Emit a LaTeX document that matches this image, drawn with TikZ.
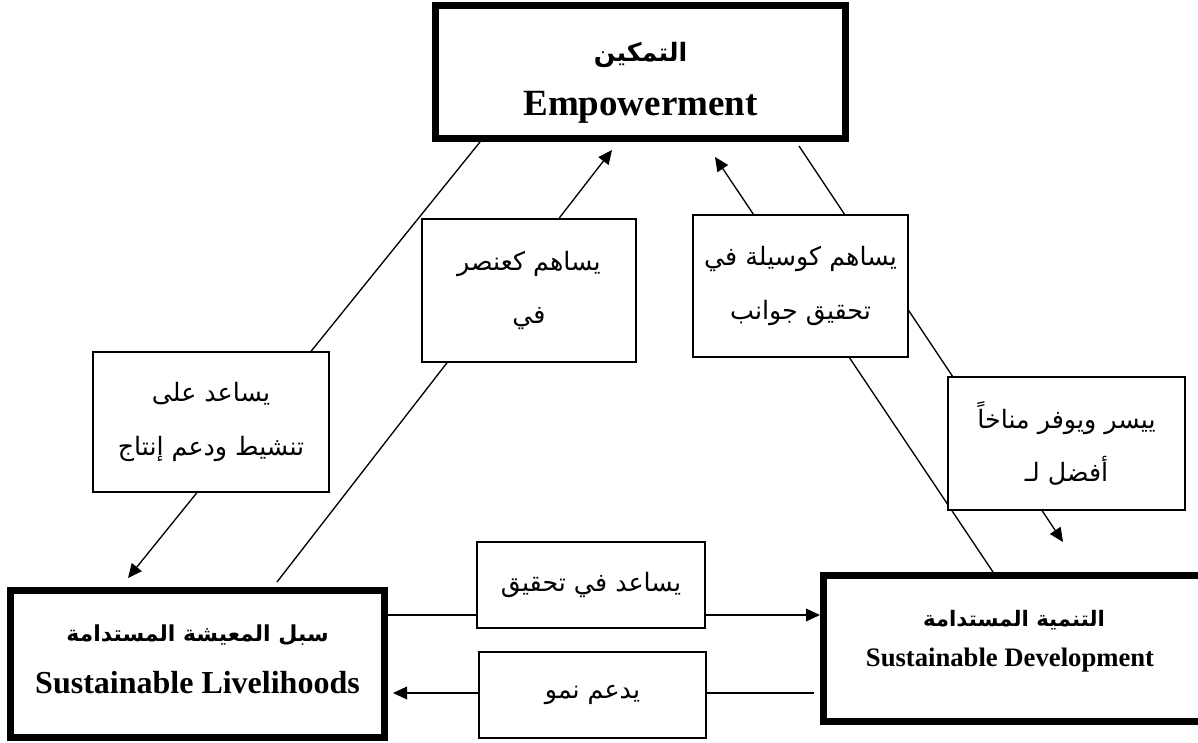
\documentclass[tikz,border=0pt]{standalone}
\usepackage{fontspec}
\setmainfont{Liberation Serif}
\newfontfamily\arabicfont[Script=Arabic]{DejaVu Sans}
\TeXXeTstate=1
\usetikzlibrary{arrows.meta}
\begin{document}
\begin{tikzpicture}[x=0.75pt,y=-0.75pt,
  bw/.style={minimum width={#1*0.75pt}},
  bh/.style={minimum height={#1*0.75pt}},
  thickbox/.style={draw, line width=5.25pt, inner sep=0pt},
  labelbox/.style={draw, line width=1pt, fill=white, inner sep=0pt, align=center,
    font=\arabicfont\fontsize{19}{40}\selectfont},
  titlear/.style={inner sep=0pt, font=\arabicfont\bfseries\fontsize{#1}{#1}\selectfont},
  titleen/.style={inner sep=0pt, font=\bfseries\fontsize{#1}{#1}\selectfont},
  conn/.style={line width=1pt, -{Triangle[length=10.5pt,width=9.5pt]}}]
\useasboundingbox (0,0) rectangle (1198,742);

% main boxes
\node[thickbox, bw=410, bh=133] (top) at (640.5,72) {};
\node[titlear=19] (topar) at (640.5,55) {\beginR التمكين\endR};
\node[titleen=27.75] (topen) at (640.5,107) {Empowerment};

\node[thickbox, bw=374, bh=147] (LB) at (197.5,664) {};
\node[titlear=16.5] (lbar) at (197.5,635) {\beginR سبل المعيشة المستدامة\endR};
\node[titleen=24] (lben) at (197.5,683) {Sustainable Livelihoods};

\node[thickbox, bw=378, bh=146] (RB) at (1012.5,648.5) {};
\node[titlear=16] (rbar) at (1014,620) {\beginR التنمية المستدامة\endR};
\node[titleen=20] (rben) at (1010,660) {Sustainable Development};

% connector end points
\coordinate (c1s) at (480,142);  \coordinate (c1e) at (128,578);
\coordinate (c2s) at (277,582);  \coordinate (c2e) at (612,150);
\coordinate (c3s) at (993,572);  \coordinate (c3e) at (715,157);
\coordinate (c4s) at (799,146);  \coordinate (c4e) at (1063,542);
\coordinate (c5s) at (388,615);  \coordinate (c5e) at (820,615);
\coordinate (c6s) at (814,693);  \coordinate (c6e) at (393,693);

\draw[conn] (c1s) -- (c1e);
\draw[conn] (c2s) -- (c2e);
\draw[conn] (c3s) -- (c3e);
\draw[conn] (c4s) -- (c4e);
\draw[conn] (c5s) -- (c5e);
\draw[conn] (c6s) -- (c6e);

% label boxes
\node[labelbox, bw=236, bh=140] (l1) at (211,422)
  {\beginR يساعد على\endR\\\beginR تنشيط ودعم إنتاج\endR};
\node[labelbox, bw=214, bh=143] (l2) at (529,290.5)
  {\beginR يساهم كعنصر\endR\\\beginR في\endR};
\node[labelbox, bw=215, bh=142] (l3) at (800.5,286)
  {\beginR يساهم كوسيلة في\endR\\\beginR تحقيق جوانب\endR};
\node[labelbox, bw=237, bh=133] (l4) at (1066.5,443.5)
  {\beginR ييسر ويوفر مناخاً\endR\\\beginR أفضل لـ\endR};
\node[labelbox, bw=228, bh=86] (l5) at (591,585)
  {\beginR يساعد في تحقيق\endR};
\node[labelbox, bw=227, bh=86] (l6) at (592.5,695)
  {\beginR يدعم نمو\endR};
\end{tikzpicture}
\end{document}
